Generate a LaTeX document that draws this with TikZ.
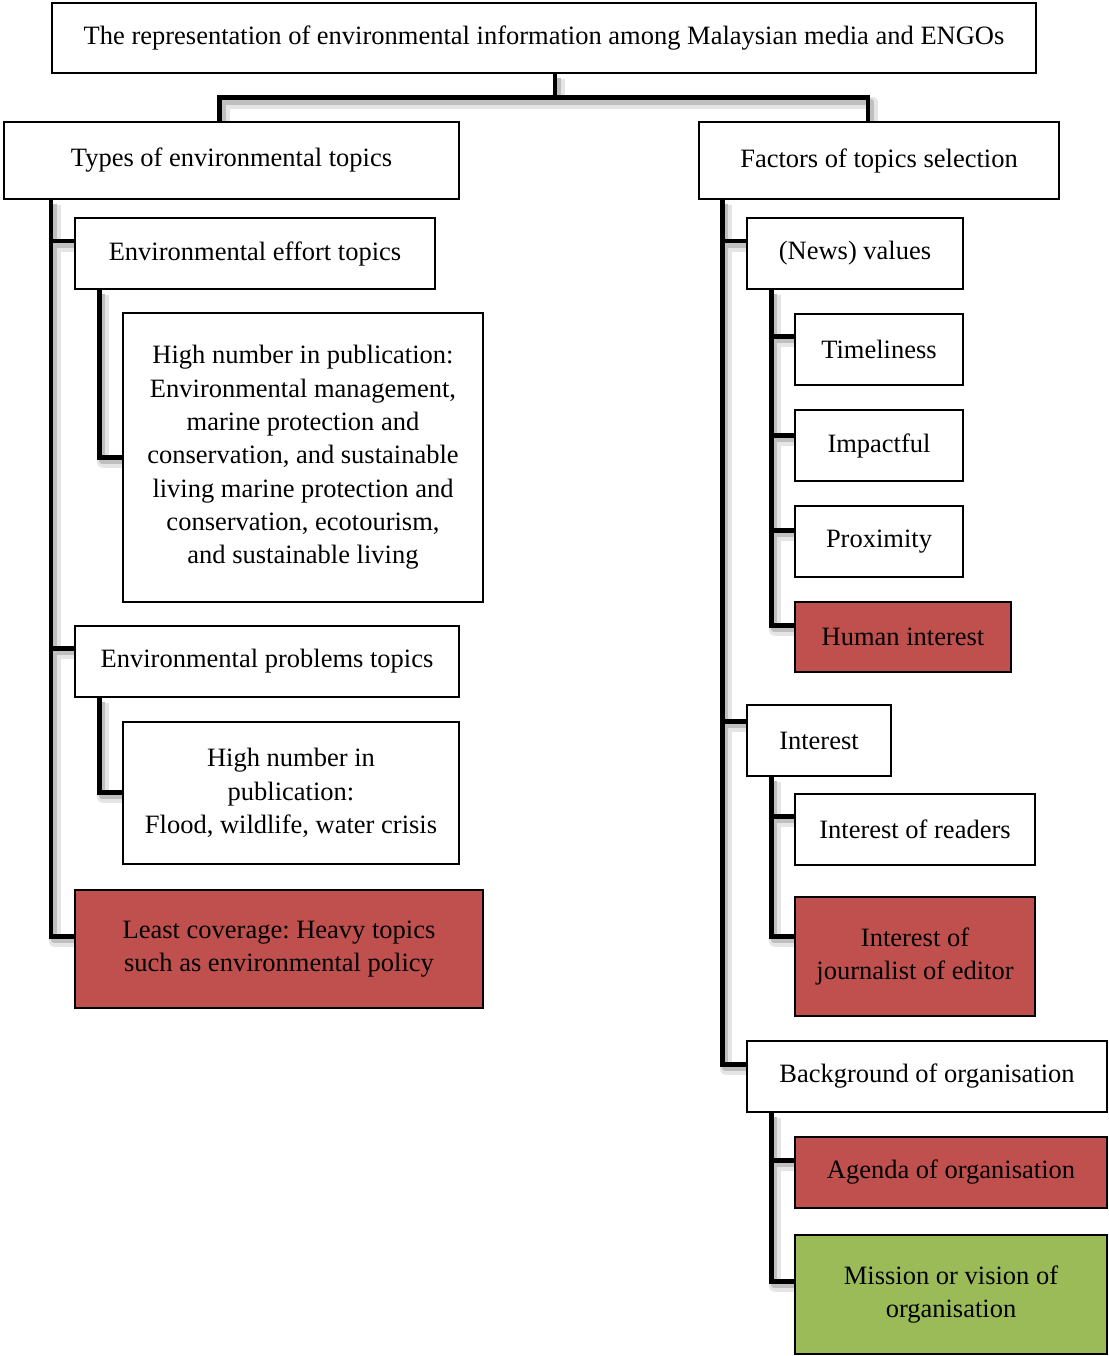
\documentclass[tikz,border=0pt]{standalone}
\usepackage{fontspec}
\setmainfont{Liberation Serif}
\frenchspacing
\usetikzlibrary{calc,backgrounds}
\definecolor{boxred}{HTML}{C0504D}
\definecolor{boxgreen}{HTML}{9BBB59}
\tikzset{
  box/.style={draw=black, line width=1.5pt, fill=white, inner sep=0pt, align=center,
    font=\fontsize{26.5}{33.3}\selectfont},
  redbox/.style={fill=boxred},
  greenbox/.style={fill=boxgreen},
  conn/.style={draw=black, line width=4.5pt, line join=miter},
  shadowA/.style={draw=black!10, line width=12pt, line join=round,
    transform canvas={shift={(4pt,-5pt)}}},
  shadowB/.style={draw=black!25, line width=6pt, line join=round,
    transform canvas={shift={(3pt,-4pt)}}},
}
% box: name, x1, y1, x2, y2, extra style, text
\newcommand\bx[7]{\node[box,#6,minimum width={#4-#2},minimum height={#5-#3}]
  (#1) at ({(#2+#4)/2},{(#3+#5)/2}) {#7};}
% all connectors of the tree, drawn with the style given
\newcommand\treelinks[1]{%
  \draw[#1] ($(title.south)+(11,0)$) -- ++(0,24) -| ($(types.north)+(-12,0)$);
  \draw[#1] ($(title.south)+(11,0)$) -- ++(0,24) -| ($(factors.north)+(-11,0)$);
  % left trunk
  \draw[#1] ($(types.south west)+(47.5,0)$) |- ($(effort.north west)+(0,24)$);
  \draw[#1] ($(types.south west)+(47.5,0)$) |- ($(problems.north west)+(0,23)$);
  \draw[#1] ($(types.south west)+(47.5,0)$) |- ($(least.north west)+(0,47)$);
  \draw[#1] ($(effort.south west)+(25,0)$) |- ($(highA.north west)+(0,145)$);
  \draw[#1] ($(problems.south west)+(25,0)$) |- ($(highB.north west)+(0,71)$);
  % right trunk
  \draw[#1] ($(factors.south west)+(24,0)$) |- ($(news.north west)+(0,24)$);
  \draw[#1] ($(factors.south west)+(24,0)$) |- ($(interest.north west)+(0,17)$);
  \draw[#1] ($(factors.south west)+(24,0)$) |- ($(backg.north west)+(0,24)$);
  \draw[#1] ($(news.south west)+(25,0)$) |- ($(timel.north west)+(0,23)$);
  \draw[#1] ($(news.south west)+(25,0)$) |- ($(impact.north west)+(0,26)$);
  \draw[#1] ($(news.south west)+(25,0)$) |- ($(prox.north west)+(0,25)$);
  \draw[#1] ($(news.south west)+(25,0)$) |- ($(human.north west)+(0,24)$);
  \draw[#1] ($(interest.south west)+(25,0)$) |- ($(readers.north west)+(0,23)$);
  \draw[#1] ($(interest.south west)+(25,0)$) |- ($(journ.north west)+(0,40)$);
  \draw[#1] ($(backg.south west)+(25,0)$) |- ($(agenda.north west)+(0,24)$);
  \draw[#1] ($(backg.south west)+(25,0)$) |- ($(mission.north west)+(0,47)$);
}
\begin{document}
\begin{tikzpicture}[x=1pt,y=-1pt]
  \useasboundingbox (0,0) rectangle (1108,1356);

  \bx{title}{52}{3}{1036}{73}{}{The representation of environmental information among Malaysian media and ENGOs}
  \bx{types}{4}{122}{459}{199}{}{Types of environmental topics}
  \bx{factors}{699}{122}{1059}{199}{}{Factors of topics selection}

  \bx{effort}{75}{218}{435}{289}{}{Environmental effort topics}
  \bx{highA}{123}{313}{483}{602}{}{High number in publication:\\Environmental management,\\marine protection and\\conservation, and sustainable\\living marine protection and\\conservation, ecotourism,\\and sustainable living}
  \bx{problems}{75}{626}{459}{697}{}{Environmental problems topics}
  \bx{highB}{123}{722}{459}{864}{}{High number in\\publication:\\Flood, wildlife, water crisis}
  \bx{least}{75}{890}{483}{1008}{redbox}{Least coverage: Heavy topics\\such as environmental policy}

  \bx{news}{747}{218}{963}{289}{}{(News) values}
  \bx{timel}{795}{314}{963}{385}{}{Timeliness}
  \bx{impact}{795}{410}{963}{481}{}{Impactful}
  \bx{prox}{795}{506}{963}{577}{}{Proximity}
  \bx{human}{795}{602}{1011}{672}{redbox}{Human interest}
  \bx{interest}{747}{705}{891}{776}{}{Interest}
  \bx{readers}{795}{794}{1035}{865}{}{Interest of readers}
  \bx{journ}{795}{897}{1035}{1016}{redbox}{Interest of\\journalist of editor}
  \bx{backg}{747}{1041}{1107}{1112}{}{Background of organisation}
  \bx{agenda}{795}{1137}{1107}{1208}{redbox}{Agenda of organisation}
  \bx{mission}{795}{1235}{1107}{1354}{greenbox}{Mission or vision of\\organisation}

  \begin{pgfonlayer}{background}
    \fill[white] (0,0) rectangle (1108,1356);
    \treelinks{shadowA}
    \treelinks{shadowB}
  \end{pgfonlayer}
  \treelinks{conn}
\end{tikzpicture}
\end{document}
